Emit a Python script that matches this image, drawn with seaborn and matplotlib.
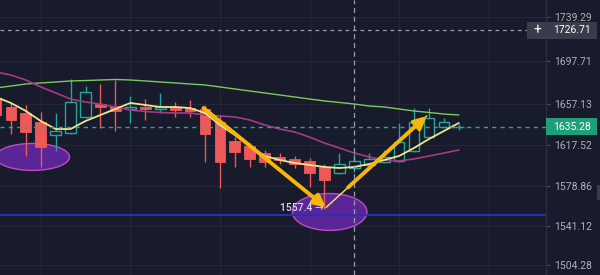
import numpy as np
import pandas as pd
import matplotlib
matplotlib.use("Agg")
import matplotlib.pyplot as plt
import matplotlib.transforms as mtransforms
from matplotlib.patches import Ellipse, Rectangle
import seaborn as sns

# ---------------- data ----------------
opens  = [1662.5, 1654.0, 1648.3, 1639.8, 1627.4, 1629.3, 1644.5, 1656.8, 1654.9, 1652.1,
          1654.0, 1652.1, 1654.0, 1653.0, 1652.1, 1639.8, 1621.7, 1617.0, 1610.3, 1606.6,
          1604.7, 1602.8, 1597.1, 1591.4, 1596.1, 1599.0, 1601.8, 1602.8, 1612.2, 1625.5,
          1635.0, 1634.8]
highs  = [1668.2, 1657.8, 1655.9, 1649.2, 1648.3, 1680.6, 1673.9, 1675.8, 1679.6, 1664.4,
          1661.6, 1667.3, 1658.7, 1660.6, 1655.9, 1646.4, 1625.5, 1619.8, 1613.2, 1610.3,
          1607.5, 1605.6, 1599.9, 1610.3, 1611.3, 1610.3, 1613.2, 1638.8, 1653.0, 1653.0,
          1643.6, 1638.0]
lows   = [1636.9, 1628.4, 1607.5, 1597.1, 1612.2, 1628.4, 1643.6, 1634.1, 1631.2, 1638.8,
          1641.7, 1648.3, 1644.5, 1644.5, 1601.8, 1577.1, 1597.1, 1597.1, 1597.1, 1599.9,
          1596.1, 1578.1, 1557.4, 1590.4, 1592.3, 1598.0, 1600.9, 1601.8, 1611.3, 1625.5,
          1635.0, 1632.5]
closes = [1646.4, 1641.7, 1630.3, 1616.0, 1631.2, 1658.7, 1668.2, 1654.0, 1650.2, 1654.0,
          1652.1, 1654.0, 1651.1, 1650.2, 1628.4, 1601.8, 1611.3, 1604.7, 1601.8, 1603.7,
          1599.9, 1591.4, 1584.7, 1599.9, 1602.8, 1604.7, 1606.6, 1620.8, 1639.8, 1643.6,
          1639.8, 1635.28]
ma_fast = [1663.5, 1657.8, 1650.2, 1640.7, 1633.1, 1633.1, 1640.7, 1646.4, 1652.1, 1657.8,
           1655.9, 1654.0, 1654.0, 1653.0, 1648.3, 1636.9, 1627.4, 1617.0, 1607.5, 1603.7,
           1600.9, 1599.0, 1597.1, 1596.1, 1597.1, 1599.9, 1603.7, 1607.5, 1615.1, 1623.6,
           1631.2, 1638.8]
ma_mid = [1687.2, 1684.3, 1679.6, 1673.0, 1667.3, 1661.6, 1658.7, 1656.8, 1654.0, 1651.1,
          1649.7, 1648.8, 1648.3, 1648.3, 1646.4, 1645.5, 1644.5, 1641.7, 1636.9, 1633.1,
          1630.3, 1625.5, 1619.8, 1615.1, 1610.3, 1606.6, 1603.7, 1602.8, 1604.7, 1607.5,
          1610.3, 1613.2]
ma_slow = [1672.0, 1673.9, 1675.8, 1676.8, 1677.7, 1678.7, 1679.1, 1679.6, 1680.1, 1679.6,
           1678.7, 1677.7, 1676.8, 1675.8, 1674.9, 1673.0, 1671.1, 1669.2, 1667.3, 1665.4,
           1663.5, 1661.6, 1659.7, 1658.3, 1656.8, 1654.9, 1654.0, 1652.1, 1650.2, 1648.8,
           1647.3, 1646.4]
price_ticks = [1739.29, 1697.71, 1657.13, 1617.52, 1578.86, 1541.12, 1504.28]
last_price = 1635.28
cross_price = 1726.71
cross_index = 24
low_price = 1557.4
low_label = "1557.4 \u2192"
support_price = 1551.5
# drawn annotations: (candle index, price)
down_arrow = [(13.9, 1653.0), (22.1, 1558.6)]
up_arrow = [(22.1, 1558.6), (28.85, 1645.5)]
circles = [(2.45, 1606.6, 4.95, 25.6), (22.35, 1554.4, 5.0, 35.0)]
y_range = (1494.6, 1755.5)
x_range = (0.27, 36.84)

# ---------------- style ----------------
BG = "#171b2b"
GRID = "#222637"
RED = "#ef5858"
TEAL = "#26a69a"

sns.set_theme(style="dark", rc={"axes.facecolor": BG, "figure.facecolor": BG})
plt.rcParams["font.family"] = ["Roboto", "DejaVu Sans"]

fig = plt.figure(figsize=(6, 2.75), dpi=100)
ax = fig.add_axes([0, 0, 546 / 600, 1])
ax.set_facecolor(BG)

df = pd.DataFrame({"i": np.arange(len(opens)), "open": opens, "high": highs,
                   "low": lows, "close": closes,
                   "fast": ma_fast, "mid": ma_mid, "slow": ma_slow})

# grid
ax.set_xlim(*x_range)
ax.set_ylim(*y_range)
ax.set_xticks([3, 9, 15, 21, 27, 33])
ax.set_xticklabels([])
ax.set_yticks(price_ticks)
ax.set_yticklabels([f"{v:.2f}" for v in price_ticks])
ax.grid(True, color=GRID, lw=0.8, zorder=0)
ax.set_axisbelow(True)
ax.yaxis.tick_right()
ax.tick_params(axis="x", length=0)
ax.tick_params(axis="y", length=3, width=0.8, color="#4a4e5a", labelcolor="#aeb1bb",
               labelsize=7.5, pad=3, right=True, left=False)
for s in ["top", "left", "bottom"]:
    ax.spines[s].set_visible(False)
ax.spines["right"].set_color("#2a2e3b")
ax.spines["right"].set_linewidth(1)

# ellipses
for cx, cy, w, h in circles:
    ax.add_patch(Ellipse((cx, cy), w, h, facecolor="#5a2597", edgecolor="#c04bc0",
                         lw=1, zorder=1))

# horizontal support line
ax.axhline(support_price, color="#2b2fb5", lw=1.4, zorder=1.5)

# candles
up = df["close"] >= df["open"]
colors = np.where(up, TEAL, RED)
ax.vlines(df["i"], df["low"], df["high"], colors=colors, lw=1, zorder=2)
bottoms = np.minimum(df["open"], df["close"])
heights = np.maximum(np.abs(df["close"] - df["open"]), 0.6)
ax.bar(df["i"][~up], heights[~up], bottom=bottoms[~up], width=0.72,
       color=RED, edgecolor=RED, lw=0.6, zorder=3)
ax.bar(df["i"][up], heights[up], bottom=bottoms[up], width=0.72,
       color=BG, edgecolor=TEAL, lw=1, zorder=3)

# moving averages
sns.lineplot(data=df, x="i", y="slow", ax=ax, color="#7cc95a", lw=1.0, zorder=4)
sns.lineplot(data=df, x="i", y="mid", ax=ax, color="#a33a86", lw=1.2, zorder=4)
sns.lineplot(data=df, x="i", y="fast", ax=ax, color="#eee58c", lw=1.3, zorder=4)
ax.set_xlabel("")
ax.set_ylabel("")

# last price & crosshair lines
ax.axhline(last_price, color=TEAL, lw=1, ls=(0, (3, 3)), zorder=4.5)
ax.axhline(cross_price, color="#9a9da8", lw=0.9, ls=(0, (3, 3)), zorder=4.5)
ax.axvline(cross_index, color="#9a9da8", lw=0.9, ls=(0, (4, 3)), zorder=4.5)

# arrows
arrow_col = "#f6b60a"
ax.annotate("", xy=down_arrow[1], xytext=down_arrow[0], zorder=6,
            arrowprops=dict(arrowstyle="-|>,head_length=0.9,head_width=0.45",
                            mutation_scale=8, color=arrow_col, lw=2.8,
                            shrinkA=0, shrinkB=0))
(x0, y0), (x1, y1) = up_arrow
ax.plot([x0, x1], [y0, y1], color="#f3d46e", lw=1.1, zorder=5.5)
xm, ym = x0 + 0.22 * (x1 - x0), y0 + 0.22 * (y1 - y0)
ax.annotate("", xy=(x1, y1), xytext=(xm, ym), zorder=6,
            arrowprops=dict(arrowstyle="-|>,head_length=0.9,head_width=0.45",
                            mutation_scale=8, color=arrow_col, lw=2.8,
                            shrinkA=0, shrinkB=0))

ax.text(21.95, low_price + 1.0, low_label, ha="right", va="center", fontsize=7.5,
        color="#dcd5f7", fontweight="medium", zorder=7)

# right-hand price boxes
trans = mtransforms.blended_transform_factory(fig.transFigure, ax.transData)
px = (y_range[1] - y_range[0]) / 275.0
fig.add_artist(Rectangle((546 / 600, last_price - 8.5 * px), 51 / 600, 17 * px,
                         transform=trans, facecolor="#1e9f78", edgecolor="none",
                         clip_on=False, zorder=8))
fig.text(553 / 600, last_price, f"{last_price:.2f}", transform=trans, ha="left",
         va="center", fontsize=7.5, color="white", zorder=9)
fig.add_artist(Rectangle((527 / 600, cross_price - 8.5 * px), 70 / 600, 17 * px,
                         transform=trans, facecolor="#393d4a", edgecolor="none",
                         clip_on=False, zorder=8))
fig.text(537 / 600, cross_price, "+", transform=trans, ha="center", va="center",
         fontsize=10, color="white", zorder=9)
fig.text(553 / 600, cross_price, f"{cross_price:.2f}", transform=trans, ha="left",
         va="center", fontsize=7.5, color="white", zorder=9)
fig.add_artist(Rectangle((597 / 600, 1 - 200 / 275), 3 / 600, 15 / 275,
                         transform=fig.transFigure, facecolor="#393d4a",
                         edgecolor="none", zorder=8))

fig.savefig("out.png", dpi=100, facecolor=BG)
